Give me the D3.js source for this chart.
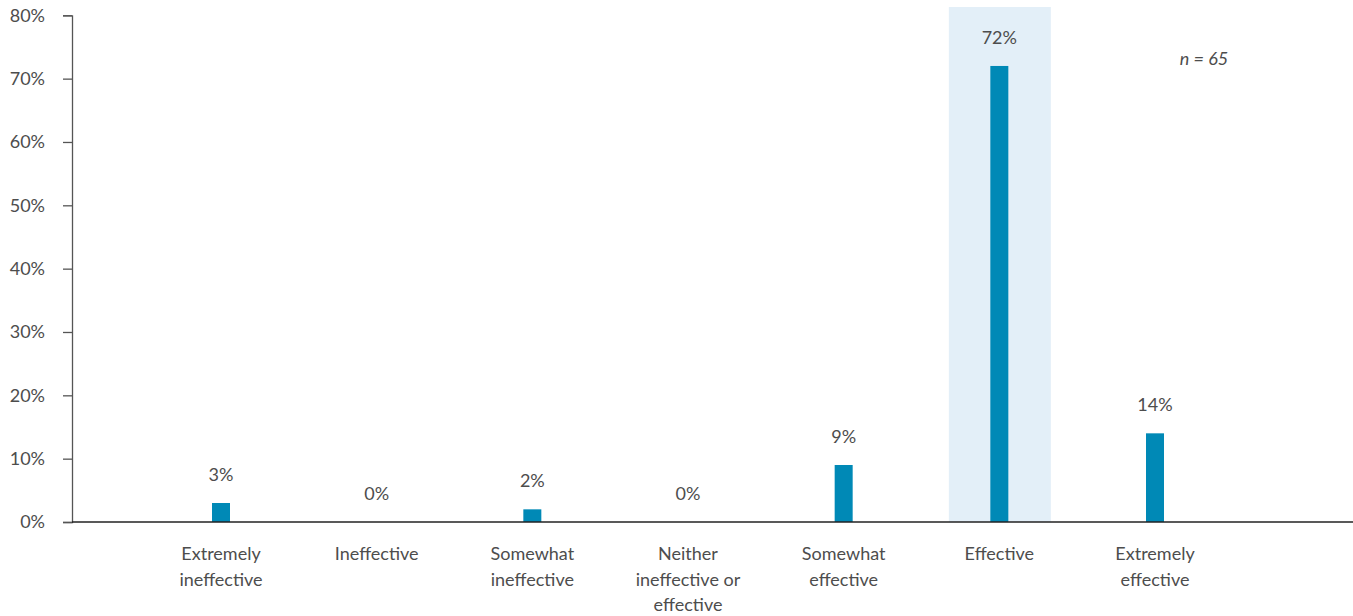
<!DOCTYPE html>
<html>
<head>
<meta charset="utf-8">
<script src="https://cdn.jsdelivr.net/npm/d3@7"></script>
<style>
  html, body { margin: 0; padding: 0; background: #fff; }
  svg { display: block; }
  text { font-family: Lato, "Open Sans", sans-serif; fill: #4d4d4d; }
</style>
</head>
<body>
<svg id="chart" width="1353" height="616"></svg>
<script>
const categories = [
  "Extremely ineffective",
  "Ineffective",
  "Somewhat ineffective",
  "Neither ineffective or effective",
  "Somewhat effective",
  "Effective",
  "Extremely effective"
];
const categoryLines = [
  ["Extremely", "ineffective"],
  ["Ineffective"],
  ["Somewhat", "ineffective"],
  ["Neither", "ineffective or", "effective"],
  ["Somewhat", "effective"],
  ["Effective"],
  ["Extremely", "effective"]
];
const values = [3, 0, 2, 0, 9, 72, 14];
const valueLabels = ["3%", "0%", "2%", "0%", "9%", "72%", "14%"];
const highlighted = ["Effective"];
const yTicks = [0, 10, 20, 30, 40, 50, 60, 70, 80];
const noteText = "n = 65";

const svg = d3.select("#chart");
const axisX = 72, axisRight = 1353;
const y = d3.scaleLinear().domain([0, 80]).range([522, 15.3]);
const x = d3.scalePoint().domain(categories).range([221, 1155]);
const step = x.step();
const barW = 18;
const bandW = 102;

// highlight band
svg.selectAll("rect.hl").data(highlighted).enter().append("rect")
  .attr("class", "hl")
  .attr("x", d => x(d) - bandW / 2 + 0.5)
  .attr("width", bandW)
  .attr("y", 7)
  .attr("height", y(0) - 7)
  .attr("fill", "#e3eff8");

// bars
svg.selectAll("rect.bar").data(values).enter().append("rect")
  .attr("class", "bar")
  .attr("x", (d, i) => x(categories[i]) - barW / 2)
  .attr("width", barW)
  .attr("y", d => y(d))
  .attr("height", d => y(0) - y(d))
  .attr("fill", "#0089b6");

// y axis
const yAxis = d3.axisLeft(y).tickValues(yTicks).tickFormat(d => d + "%").tickSizeOuter(0).tickSize(9).tickPadding(18);
const gy = svg.append("g").attr("transform", `translate(${axisX},0)`).call(yAxis);
gy.select(".domain").attr("stroke", "#555").attr("stroke-width", 1.3);
gy.selectAll(".tick line").attr("stroke", "#555").attr("stroke-width", 1.3);
gy.selectAll(".tick text").style("font-size", "18px").attr("fill", "#4d4d4d")
  .style("font-family", "Lato, 'Open Sans', sans-serif");

// x axis line
svg.append("line")
  .attr("x1", axisX).attr("x2", axisRight)
  .attr("y1", y(0)).attr("y2", y(0))
  .attr("stroke", "#222").attr("stroke-width", 1.5);

// value labels
svg.selectAll("text.val").data(values).enter().append("text")
  .attr("class", "val")
  .attr("x", (d, i) => x(categories[i]))
  .attr("y", d => y(d) - 22)
  .attr("text-anchor", "middle")
  .style("font-size", "18px")
  .text((d, i) => valueLabels[i]);

// category labels
const cg = svg.selectAll("g.cat").data(categories).enter().append("g")
  .attr("class", "cat")
  .attr("transform", d => `translate(${x(d)},560)`);
cg.each(function(d, i) {
  const g = d3.select(this);
  categoryLines[i].forEach((ln, j) => {
    g.append("text")
      .attr("x", 0).attr("y", j * 25.5)
      .attr("text-anchor", "middle")
      .style("font-size", "18px")
      .text(ln);
  });
});

// n note
const note = svg.append("text")
  .attr("x", 1204).attr("y", 65)
  .attr("text-anchor", "middle")
  .style("font-size", "18px")
  .style("font-style", "italic");
note.append("tspan").text("n");
note.append("tspan").text(noteText.slice(1));
</script>
</body>
</html>
